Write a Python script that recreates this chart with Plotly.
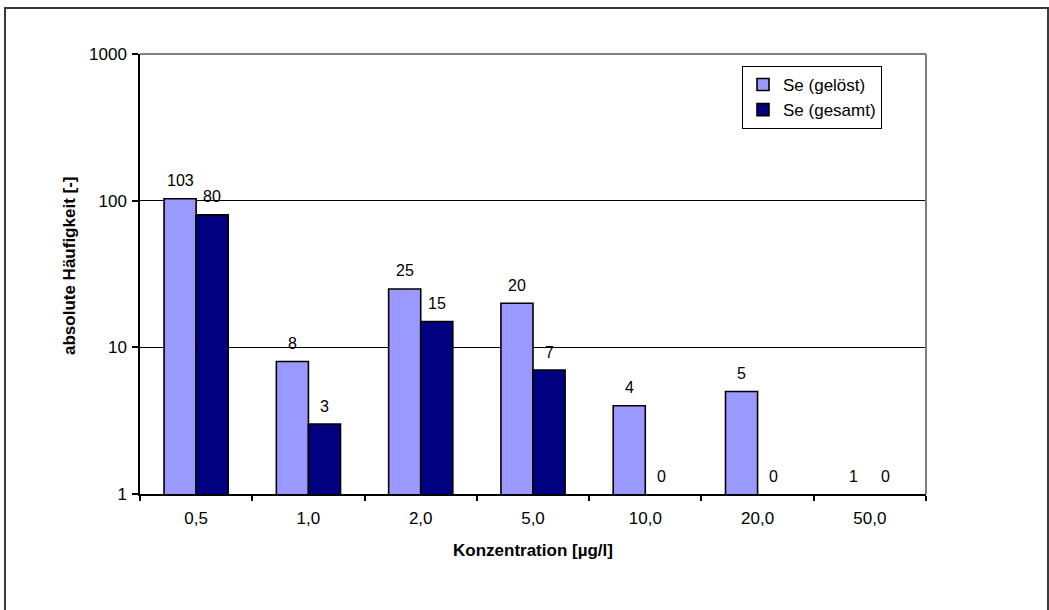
import math
import plotly.graph_objects as go

# Concentration classes and absolute frequencies
categories = ["0,5", "1,0", "2,0", "5,0", "10,0", "20,0", "50,0"]
se_geloest = [103, 8, 25, 20, 4, 5, 1]
se_gesamt = [80, 3, 15, 7, 0, 0, 0]
y_tickvals = [1, 10, 100, 1000]
y_ticktext = ["1", "10", "100", "1000"]

FONT = "Liberation Sans, Arial, sans-serif"
W, H = 1049, 610
M_L, M_R, M_T, M_B = 140, 123, 54, 116
PW, PH = W - M_L - M_R, H - M_T - M_B
BARGAP = 1.5 / 3.5


def px_x(p):
    return (p - M_L) / PW


def px_y(p):
    return (H - M_B - p) / PH


fig = go.Figure()
series = [("Se (gelöst)", se_geloest, "#9999FF"), ("Se (gesamt)", se_gesamt, "#000080")]
for name, vals, color in series:
    # bars of height 1 collapse onto the baseline: no outline for them
    outline_w = [1.6 if v > 1 else 0 for v in vals]
    fig.add_trace(go.Bar(
        x=categories, y=vals, name=name,
        marker=dict(color=color, line=dict(color="black", width=outline_w)),
        hoverinfo="x+y+name",
    ))

# value labels above each bar (zero / one sit on the baseline)
slot = PW / len(categories)
bar_w = slot * (1 - BARGAP) / 2
annotations = []
for k, (name, vals, color) in enumerate(series):
    shift = (k - 0.5) * bar_w
    for cat, v in zip(categories, vals):
        annotations.append(dict(
            x=cat, y=math.log10(max(v, 1)), xref="x", yref="y",
            text=str(v), showarrow=False, xshift=shift, yshift=18,
            xanchor="center", yanchor="middle",
            font=dict(family=FONT, size=16, color="black"),
        ))

annotations.append(dict(
    x=px_x(69), y=px_y(266), xref="paper", yref="paper",
    text="<b>absolute Häufigkeit [-]</b>", textangle=-90, showarrow=False,
    xanchor="center", yanchor="middle",
    font=dict(family=FONT, size=17, color="black"),
))
annotations.append(dict(
    x=0.5, y=px_y(550), xref="paper", yref="paper",
    text="<b>Konzentration [µg/l]</b>", showarrow=False,
    xanchor="center", yanchor="middle",
    font=dict(family=FONT, size=17, color="black"),
))

shapes = [
    # outer chart frame
    dict(type="rect", xref="paper", yref="paper",
         x0=px_x(5), x1=px_x(1048), y0=px_y(640), y1=px_y(8),
         line=dict(color="#3a3a3a", width=2), fillcolor="rgba(0,0,0,0)", layer="above"),
    # plot-area frame, top and right
    dict(type="line", xref="paper", yref="paper", x0=0, x1=1, y0=1, y1=1,
         line=dict(color="#808080", width=2), layer="above"),
    dict(type="line", xref="paper", yref="paper", x0=1, x1=1, y0=0, y1=1,
         line=dict(color="#808080", width=2), layer="above"),
]

fig.update_layout(
    width=W, height=H,
    margin=dict(l=M_L, r=M_R, t=M_T, b=M_B),
    paper_bgcolor="white", plot_bgcolor="white",
    barmode="group", bargap=BARGAP, bargroupgap=0,
    font=dict(family=FONT, size=17, color="black"),
    showlegend=True,
    legend=dict(
        x=px_x(742), y=px_y(66), xanchor="left", yanchor="top",
        bgcolor="white", bordercolor="black", borderwidth=1,
        font=dict(family=FONT, size=17, color="black"),
        itemwidth=30, tracegroupgap=0,
    ),
    annotations=annotations,
    shapes=shapes,
)

fig.update_xaxes(
    type="category", showline=True, linecolor="black", linewidth=1.5,
    ticks="outside", ticklen=5, tickcolor="black", tickwidth=1.5,
    tickson="boundaries", showgrid=False, zeroline=False,
    tickfont=dict(family=FONT, size=17, color="black"),
    ticklabelstandoff=8,
)
fig.update_yaxes(
    type="log", range=[0, 3], tickvals=y_tickvals, ticktext=y_ticktext,
    showline=True, linecolor="black", linewidth=1.5,
    ticks="outside", ticklen=6, tickcolor="black", tickwidth=1.5,
    showgrid=True, gridcolor="black", gridwidth=1, zeroline=False,
    tickfont=dict(family=FONT, size=17, color="black"),
    ticklabelstandoff=2,
)

fig.write_html("out.html")
